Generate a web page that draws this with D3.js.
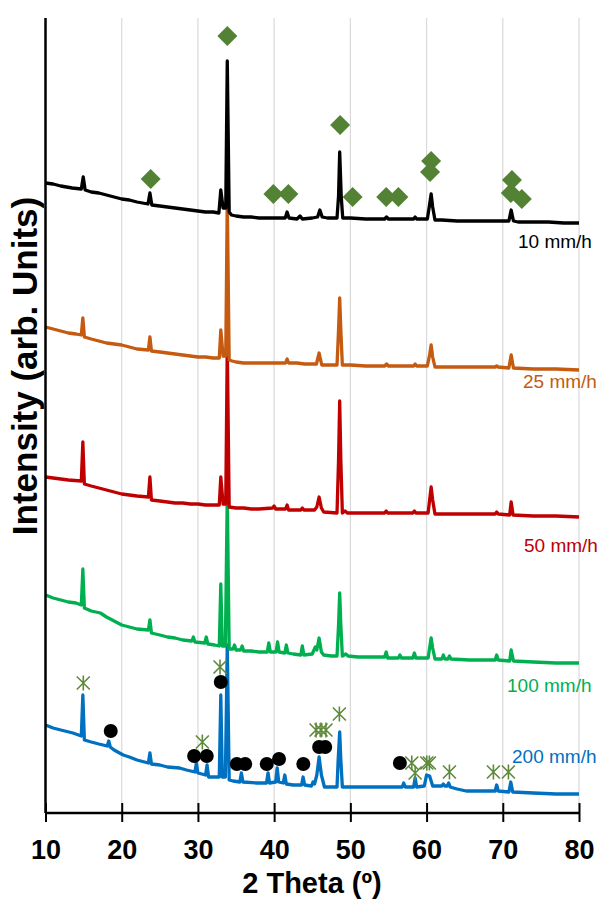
<!DOCTYPE html>
<html><head><meta charset="utf-8">
<script src="https://cdn.jsdelivr.net/npm/d3@7"></script>
<style>
html,body{margin:0;padding:0;background:#fff;}
svg{display:block;font-family:"Liberation Sans",Arial,sans-serif;}
</style></head>
<body>
<svg id="chart" width="603" height="904"></svg>
<script>
// ---- data (2θ, intensity in arbitrary units incl. vertical offset) ----
const xTicks = [10,20,30,40,50,60,70,80];
const seriesNames = ["10 mm/h","25 mm/h","50 mm/h","100 mm/h","200 mm/h"];
const s10 = [[10,630],[11,629],[12,627],[13.5,625],[14.7,624],[14.95,636],[15.2,623],[16,621],[17,620],[18,618],[19,616],[20,614],[21,613],[22,611],[23.45,609],[23.7,620],[23.95,608],[25,607],[26,606],[27,605],[28,604],[29,603],[30,602],[31,601],[32,601],[32.75,600],[33.0,623],[33.3,605],[33.65,605],[33.85,752],[34.1,601],[34.4,598],[35,597],[36,596],[37,596],[38,595],[40,595],[41.45,595],[41.7,601],[41.95,595],[43,594],[43.4,597],[43.7,594],[45,595],[45.7,596],[46.0,603],[46.3,596],[47,595],[48.25,595],[48.45,617],[48.6,661],[48.8,617],[49.0,595],[50,595],[52,594],[54.5,594],[54.75,596],[55,594],[57,594],[58.3,594],[58.5,596],[58.7,594],[60.1,594],[60.35,606],[60.6,619],[60.8,606],[61.1,593],[62,593],[64,592],[66,592],[68,592],[70.8,592],[71.1,603],[71.4,592],[72,591],[74,591],[76,591],[78,590],[80,590]];
const s25 = [[10,486],[11,484],[12,482],[13,480],[14,479],[14.7,478],[14.9,495],[15.1,476],[16,474],[17,472],[18,470],[19,469],[20,468],[21,466],[22,464],[23.5,463],[23.7,476],[23.9,462],[25,461],[26,460],[27,459],[28,458],[29,457],[30,456],[31,456],[32,455],[32.8,455],[33.0,483],[33.3,457],[33.65,457],[33.85,613],[34.1,453],[34.5,452],[35,451],[36,450],[38,450],[40,450],[41.5,450],[41.7,454],[41.9,450],[43,450],[44,449],[45.55,449],[45.9,460],[46.25,448],[47,448],[48.25,448],[48.45,483],[48.6,515],[48.75,483],[48.95,448],[50,448],[52,447],[54.5,447],[54.75,449],[55,447],[58.3,447],[58.5,449],[58.7,447],[60.1,447],[60.4,458],[60.6,468],[60.8,456],[61.1,446],[63,446],[66,446],[69,446],[69.2,447],[69.4,446],[70.8,445],[71.1,458],[71.4,445],[74,444],[77,444],[80,443]];
const s50 = [[10,336],[11,335],[12,334],[13,333],[14.7,332],[14.9,371],[15.1,329],[16,327],[17,325],[18,323],[19,321],[20,319],[21,318],[22,317],[23.5,316],[23.7,336],[23.9,313],[25,312],[26,311],[27,310],[28,310],[29,309],[30,309],[31,308],[32,308],[32.8,308],[33.0,336],[33.3,309],[33.65,309],[33.85,468],[34.1,306],[35,305],[36,305],[37,304],[38,304],[39.8,305],[40.0,307],[40.2,304],[41.5,304],[41.7,308],[41.9,303],[43.5,303],[43.7,305],[43.9,303],[45.3,303],[45.6,306],[45.9,316],[46.2,305],[46.5,301],[48.25,300],[48.45,353],[48.6,412],[48.75,353],[48.95,300],[49.3,302],[49.6,300],[52,300],[54.5,300],[54.7,302],[54.9,300],[58.2,300],[58.4,302],[58.6,300],[60.2,300],[60.4,313],[60.6,326],[60.8,313],[61.1,299],[63,299],[66,299],[69,299],[69.2,301],[69.4,299],[70.9,298],[71.1,311],[71.35,298],[74,297],[77,297],[80,296]];
const s100 = [[10,218],[11,215],[12,213],[13,211],[14,210],[14.7,208],[14.9,244],[15.1,205],[16,202],[17.2,200],[18,196],[19,192],[20,188],[21,186],[22,184],[23.5,183],[23.7,193],[23.9,180],[25,178],[26,176],[27,175],[28,173],[29.2,172],[29.4,176],[29.6,171],[30.9,170],[31.1,176],[31.3,169],[32.2,168],[32.8,167],[33.0,229],[33.2,167],[33.6,167],[33.85,318],[34.1,164],[34.6,164],[34.8,168],[35.0,163],[35.6,163],[35.8,167],[36.0,162],[37,162],[38,161],[39.1,161],[39.3,170],[39.5,161],[40.25,161],[40.45,171],[40.65,161],[41.4,160],[41.6,168],[41.8,160],[42.5,159],[43.5,158],[43.7,167],[43.9,158],[45.0,159],[45.4,166],[45.6,163],[45.9,175],[46.2,161],[46.5,158],[47.5,157],[48.25,157],[48.45,188],[48.6,220],[48.75,188],[48.95,157],[49.4,159],[49.7,157],[51,156],[53,156],[54.5,156],[54.7,161],[54.9,155],[56.3,155],[56.5,158],[56.7,155],[58.2,155],[58.4,160],[58.6,155],[60.2,155],[60.4,165],[60.6,175],[60.8,165],[61.1,154],[62.0,154],[62.2,158],[62.4,154],[62.8,154],[63.0,157],[63.2,154],[65.6,153],[67,153],[69.0,153],[69.2,158],[69.4,153],[70.9,152],[71.1,163],[71.4,152],[74,151],[77,150],[80,150]];
const s200 = [[10,88],[11,85],[12,83],[13.6,80],[14.7,77],[14.9,118],[15.1,73],[16,71],[17,69],[18.1,67],[18.3,72],[18.5,66],[19,63],[20.2,58],[21,56],[22,53],[23.5,50],[23.7,60],[23.9,49],[25,48],[26,46],[27.6,45],[28.5,43],[29.6,41],[29.8,50],[30.0,40],[31.0,38],[31.2,48],[31.4,36],[32.4,36],[32.8,36],[33.0,118],[33.2,36],[33.6,36],[33.85,168],[34.1,33],[34.6,32],[35.5,31],[35.7,40],[35.9,31],[37.7,30],[39.0,30],[39.2,40],[39.4,30],[40.2,31],[40.4,45],[40.6,31],[41.2,30],[41.4,38],[41.6,29],[42.5,28],[43.6,28],[43.8,36],[44.0,28],[44.9,27],[45.1,31],[45.3,29],[45.6,38],[45.9,56],[46.2,38],[46.6,26],[48.25,26],[48.4,53],[48.6,81],[48.75,53],[48.95,26],[50,26],[53,26],[56,26],[56.8,26],[57.0,30],[57.2,26],[58.3,26],[58.5,35],[58.7,26],[59.7,27],[60.0,38],[60.4,37],[60.8,27],[62.0,27],[62.2,29],[62.4,27],[62.7,27],[62.9,30],[63.1,26],[64,24],[65.2,22],[67,22],[69.0,22],[69.2,28],[69.4,22],[70.8,21],[71.05,31],[71.3,21],[74,20],[77,19],[80,19]];
// phase markers
const diamondTheta = [33.86,23.8,39.9,41.87,48.66,50.3,54.7,56.3,60.6,60.46,71.2,71.05,72.5];
const diamondInt   = [777,634,619,619,688,616,616,616,652,641,633,620,614];
const circleTheta  = [18.56,29.5,31.16,33.0,35.1,36.2,39.03,40.64,43.83,45.9,46.7,56.5];
const circleInt    = [82,57,57,131,49,49,49,54,49,66,66,50];
const starTheta    = [14.96,30.58,32.9,45.5,46.15,46.8,48.56,58.06,58.5,60.03,60.37,63.0,68.77,70.74];
const starInt      = [130,71,146,83,83,83,99,50,40,50,50,41,41,41];

// ---- drawing ----
const svg = d3.select("#chart");
const x = d3.scaleLinear().domain([10,80]).range([45.5,579]);
const y = d3.scaleLinear().domain([0,800]).range([813,13]);
const yTop = y(795);

// gridlines
svg.append("g").selectAll("line").data(xTicks.slice(1)).join("line")
  .attr("x1",d=>x(d)).attr("x2",d=>x(d)).attr("y1",yTop).attr("y2",y(0))
  .attr("stroke","#d9d9d9").attr("stroke-width",1.2);

const colors = ["#000000","#c55a11","#c00000","#00b050","#0070c0"];
const series = [s10,s25,s50,s100,s200];
const line = d3.line().x(d=>x(d[0])).y(d=>y(d[1]));
for (let i = series.length-1; i >= 0; i--) {
  svg.append("path").datum(series[i]).attr("d",line).attr("fill","none")
    .attr("stroke",colors[i]).attr("stroke-width",3.3).attr("stroke-linejoin","round");
}

// axes
svg.append("line").attr("x1",x(10)).attr("x2",x(10)).attr("y1",yTop).attr("y2",y(0))
  .attr("stroke","#000").attr("stroke-width",2.5);
const xAxis = svg.append("g").attr("transform",`translate(0,${y(0)})`)
  .call(d3.axisBottom(x).tickValues(xTicks).tickSize(9).tickPadding(0).tickFormat(d3.format("d")));
xAxis.select(".domain").attr("stroke","#000").attr("stroke-width",2.5).attr("d",`M${x(10)},0H${x(80)}`);
xAxis.selectAll(".tick line").attr("y1",-10).attr("y2",9).attr("stroke","#000").attr("stroke-width",2);
xAxis.selectAll(".tick text").attr("y",46).attr("dy",0).attr("fill","#000")
  .style("font-size","27px").style("font-weight","bold").style("font-family","'Liberation Sans',Arial,sans-serif");

svg.append("text").attr("x",312).attr("y",893).attr("text-anchor","middle")
  .style("font-size","29px").style("font-weight","bold").text("2 Theta (º)");
svg.append("text").attr("transform","translate(37,366) rotate(-90)").attr("text-anchor","middle")
  .style("font-size","35px").style("font-weight","bold").text("Intensity (arb. Units)");

// series labels
const labelX = [518,523,524,507,512];
const labelY = [248,388,552,692,763];
seriesNames.forEach((n,i)=>{
  svg.append("text").attr("x",labelX[i]).attr("y",labelY[i]).attr("fill",colors[i])
    .style("font-size","19px").text(n);
});

// markers
const diamonds = diamondTheta.map((t,i)=>[t,diamondInt[i]]);
svg.append("g").selectAll("path").data(diamonds).join("path")
  .attr("d",d3.symbol(d3.symbolSquare,200))
  .attr("transform",d=>`translate(${x(d[0])},${y(d[1])}) rotate(45)`)
  .attr("fill","#548235");
const circles = circleTheta.map((t,i)=>[t,circleInt[i]]);
svg.append("g").selectAll("circle").data(circles).join("circle")
  .attr("cx",d=>x(d[0])).attr("cy",d=>y(d[1])).attr("r",7).attr("fill","#000");
const stars = starTheta.map((t,i)=>[t,starInt[i]]);
const s = 6.5;
svg.append("g").selectAll("path").data(stars).join("path")
  .attr("d",`M${-s},${-s}L${s},${s}M${-s},${s}L${s},${-s}M0,${-s-1}L0,${s+1}`)
  .attr("transform",d=>`translate(${x(d[0])},${y(d[1])})`)
  .attr("fill","none").attr("stroke","#5f8a3c").attr("stroke-width",1.6);
</script>
</body></html>
